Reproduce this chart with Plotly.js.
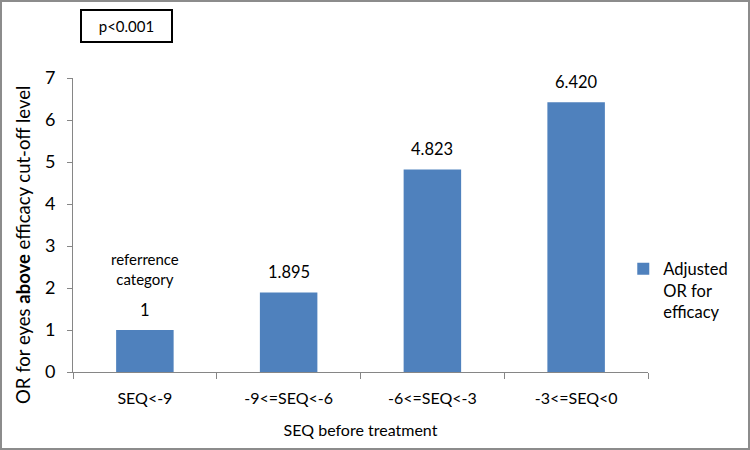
<!DOCTYPE html>
<html>
<head>
<meta charset="utf-8">
<script src="https://cdn.plot.ly/plotly-3.0.1.min.js"></script>
<style>
html,body{margin:0;padding:0;background:#fff;}
#chart{width:746px;height:446px;border:2px solid #8c8c8c;}
</style>
</head>
<body>
<div id="chart"></div>
<script>
var categories = ["SEQ<-9", "-9<=SEQ<-6", "-6<=SEQ<-3", "-3<=SEQ<0"];
var orValues = [1, 1.895, 4.823, 6.420];
var valueLabels = ["1", "1.895", "4.823", "6.420"];
var notes = ["referrence<br>category", "", "", ""];
var seriesName = "Adjusted<br>OR for<br>efficacy";
var pText = "p<0.001";
var xTitle = "SEQ before treatment";
var yTitle = "OR for eyes <b>above</b> efficacy cut-off level";

var FONT = "Lato, 'Open Sans', sans-serif";

var annotations = [];
for (var i = 0; i < categories.length; i++) {
  annotations.push({
    x: categories[i], y: orValues[i], xref: "x", yref: "y",
    text: valueLabels[i], showarrow: false, yanchor: "bottom", yshift: 8,
    font: {family: FONT, size: 16.5, color: "#000"}
  });
  if (notes[i]) {
    annotations.push({
      x: categories[i], y: orValues[i], xref: "x", yref: "y",
      text: notes[i], showarrow: false, yanchor: "bottom", yshift: 40,
      font: {family: FONT, size: 15, color: "#000"}
    });
  }
}
annotations.push({
  x: 0.093, y: 1.177, xref: "paper", yref: "paper",
  text: pText, showarrow: false, xanchor: "center", yanchor: "middle",
  width: 87, height: 28, bordercolor: "#000", borderwidth: 2,
  font: {family: FONT, size: 15, color: "#000"}
});
annotations.push({
  x: -0.087, y: 0.432, xref: "paper", yref: "paper",
  text: yTitle, showarrow: false, textangle: -90,
  xanchor: "center", yanchor: "middle",
  font: {family: FONT, size: 18.5, color: "#000"}
});

var trace = {
  type: "bar", x: categories, y: orValues, name: seriesName,
  marker: {color: "#4F81BD"}, showlegend: true, hoverinfo: "x+y"
};

var layout = {
  width: 746, height: 446,
  margin: {l: 71, r: 100, t: 76, b: 76},
  paper_bgcolor: "#fff", plot_bgcolor: "#fff",
  font: {family: FONT, size: 15, color: "#000"},
  bargap: 0.6,
  showlegend: true,
  legend: {x: 0.957, xanchor: "left", y: 0.41, yanchor: "top", valign: "top",
           bgcolor: "rgba(0,0,0,0)",
           font: {family: FONT, size: 16.5, color: "#000"}},
  xaxis: {
    type: "category", range: [-0.5, 3.5],
    showline: true, linecolor: "#868686", linewidth: 1,
    ticks: "outside", tickson: "boundaries", ticklen: 6, tickcolor: "#868686",
    showgrid: false, zeroline: false,
    tickfont: {family: FONT, size: 16},
    ticklabelstandoff: 12,
    title: {text: xTitle, font: {family: FONT, size: 16}, standoff: 18}
  },
  yaxis: {
    range: [0, 7], dtick: 1, tick0: 0,
    showline: true, linecolor: "#868686", linewidth: 1,
    ticks: "outside", ticklen: 5, tickcolor: "#868686",
    showgrid: false, zeroline: false,
    tickfont: {family: FONT, size: 18},
    ticklabelstandoff: 8
  },
  annotations: annotations
};

Plotly.newPlot("chart", [trace], layout, {displayModeBar: false, staticPlot: true});
</script>
</body>
</html>
